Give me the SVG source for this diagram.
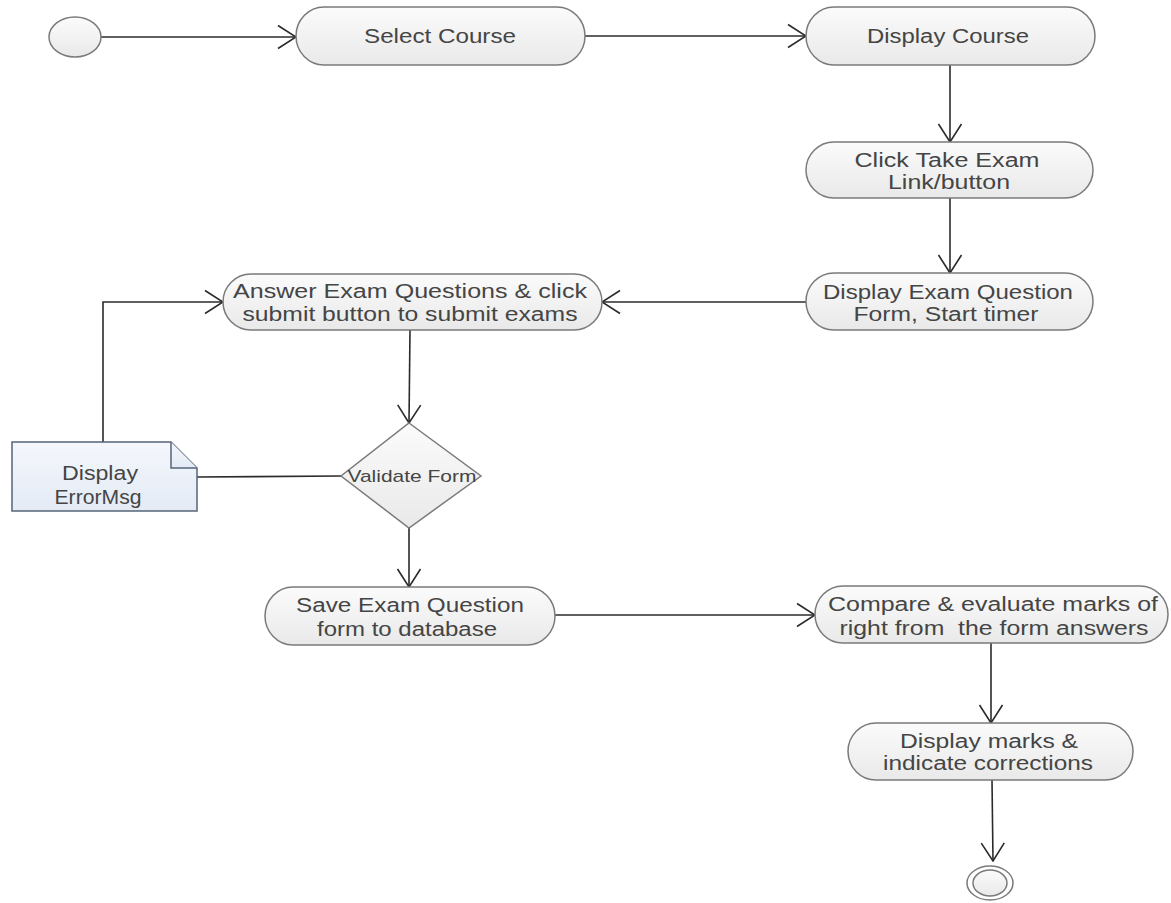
<svg xmlns="http://www.w3.org/2000/svg" width="1171" height="903" viewBox="0 0 1171 903">
  <defs>
    <linearGradient id="actFill" x1="0" y1="0" x2="0" y2="1">
      <stop offset="0" stop-color="#fbfbfb"/>
      <stop offset="1" stop-color="#e9e9e9"/>
    </linearGradient>
    <linearGradient id="noteFill" x1="0" y1="0" x2="0" y2="1">
      <stop offset="0" stop-color="#f4f7fc"/>
      <stop offset="1" stop-color="#e4ebf5"/>
    </linearGradient>
    <marker id="open" viewBox="0 0 20 26" refX="19" refY="13" markerWidth="20" markerHeight="26" markerUnits="userSpaceOnUse" orient="auto">
      <path d="M1,1.5 L19,13 L1,24.5" fill="none" stroke="#2b2b2b" stroke-width="1.6"/>
    </marker>
  </defs>
  <style>
    .act { fill: url(#actFill); stroke: #7a7a7a; stroke-width: 1.5; }
    .note { fill: url(#noteFill); stroke: #56667a; stroke-width: 1.5; }
    .edge { fill: none; stroke: #2b2b2b; stroke-width: 1.6; }
    .arrow { marker-end: url(#open); }
    text { font-family: "Liberation Sans", Arial, sans-serif; font-size: 19.5px; fill: #454545; text-anchor: middle; }
    .small { font-size: 17px; }
  </style>
  <rect width="1171" height="903" fill="#ffffff"/>

  <!-- connectors -->
  <g id="connectors">
    <path class="edge arrow" d="M101,37 L296,37"/>
    <path class="edge arrow" d="M585,36 L806,36"/>
    <path class="edge arrow" d="M950,65 L950,142"/>
    <path class="edge arrow" d="M950,198 L950,273"/>
    <path class="edge arrow" d="M806,302 L602,302"/>
    <path class="edge arrow" d="M410,330 L409,423"/>
    <path class="edge" d="M341,476 L197,477"/>
    <path class="edge arrow" d="M103,442 L103,302 L223,302"/>
    <path class="edge arrow" d="M409,528 L409,587"/>
    <path class="edge arrow" d="M555,615 L815,615"/>
    <path class="edge arrow" d="M991,643 L991,723"/>
    <path class="edge arrow" d="M992,780 L993,861"/>
  </g>

  <!-- start -->
  <g id="start">
    <ellipse cx="75" cy="37" rx="26" ry="20" fill="url(#actFill)" stroke="#7a7a7a" stroke-width="1.5"/>
  </g>

  <g id="selectCourse">
    <rect class="act" x="296" y="7" width="289" height="58" rx="28" ry="29"/>
    <text x="440" y="43" textLength="152" lengthAdjust="spacingAndGlyphs">Select Course</text>
  </g>

  <g id="displayCourse">
    <rect class="act" x="806" y="7" width="289" height="58" rx="28" ry="29"/>
    <text x="948" y="43" textLength="162" lengthAdjust="spacingAndGlyphs">Display Course</text>
  </g>

  <g id="clickTakeExam">
    <rect class="act" x="806" y="142" width="287" height="56" rx="28" ry="28"/>
    <text x="947" y="167" textLength="185" lengthAdjust="spacingAndGlyphs">Click Take Exam</text>
    <text x="949" y="189" textLength="122" lengthAdjust="spacingAndGlyphs">Link/button</text>
  </g>

  <g id="displayQuestionForm">
    <rect class="act" x="806" y="273" width="287" height="57" rx="28" ry="28.5"/>
    <text x="948" y="299" textLength="250" lengthAdjust="spacingAndGlyphs">Display Exam Question</text>
    <text x="946" y="321" textLength="185" lengthAdjust="spacingAndGlyphs">Form, Start timer</text>
  </g>

  <g id="answerQuestions">
    <rect class="act" x="223" y="274" width="379" height="56" rx="28" ry="28"/>
    <text x="410" y="298" textLength="354" lengthAdjust="spacingAndGlyphs">Answer Exam Questions &amp; click</text>
    <text x="410" y="321" textLength="335" lengthAdjust="spacingAndGlyphs">submit button to submit exams</text>
  </g>

  <g id="errorNote">
    <path class="note" d="M12,442 L171,442 L197,468 L197,511 L12,511 Z"/>
    <path class="note" d="M171,442 L171,468 L197,468" fill="none"/>
    <text x="100" y="480" textLength="76" lengthAdjust="spacingAndGlyphs">Display</text>
    <text x="98" y="504" textLength="87" lengthAdjust="spacingAndGlyphs">ErrorMsg</text>
  </g>

  <g id="validateForm">
    <path class="act" d="M409,423 L481,476 L409,528 L341,476 Z"/>
    <text class="small" x="412" y="482" textLength="129" lengthAdjust="spacingAndGlyphs">Validate Form</text>
  </g>

  <g id="saveForm">
    <rect class="act" x="265" y="587" width="290" height="58" rx="28" ry="29"/>
    <text x="410" y="612" textLength="228" lengthAdjust="spacingAndGlyphs">Save Exam Question</text>
    <text x="407" y="636" textLength="180" lengthAdjust="spacingAndGlyphs">form to database</text>
  </g>

  <g id="compareEvaluate">
    <rect class="act" x="815" y="586" width="353" height="57" rx="28" ry="28.5"/>
    <text x="993" y="611" textLength="330" lengthAdjust="spacingAndGlyphs">Compare &amp; evaluate marks of</text>
    <text x="994" y="635" textLength="309" lengthAdjust="spacingAndGlyphs" xml:space="preserve">right from  the form answers</text>
  </g>

  <g id="displayMarks">
    <rect class="act" x="848" y="723" width="285" height="57" rx="28" ry="28.5"/>
    <text x="989" y="748" textLength="178" lengthAdjust="spacingAndGlyphs">Display marks &amp;</text>
    <text x="988" y="770" textLength="210" lengthAdjust="spacingAndGlyphs">indicate corrections</text>
  </g>

  <!-- end -->
  <g id="end">
    <ellipse cx="990" cy="883" rx="23" ry="17" fill="#ffffff" stroke="#7a7a7a" stroke-width="1.5"/>
    <ellipse cx="990" cy="883" rx="17" ry="13" fill="url(#actFill)" stroke="#7a7a7a" stroke-width="1.5"/>
  </g>
</svg>
